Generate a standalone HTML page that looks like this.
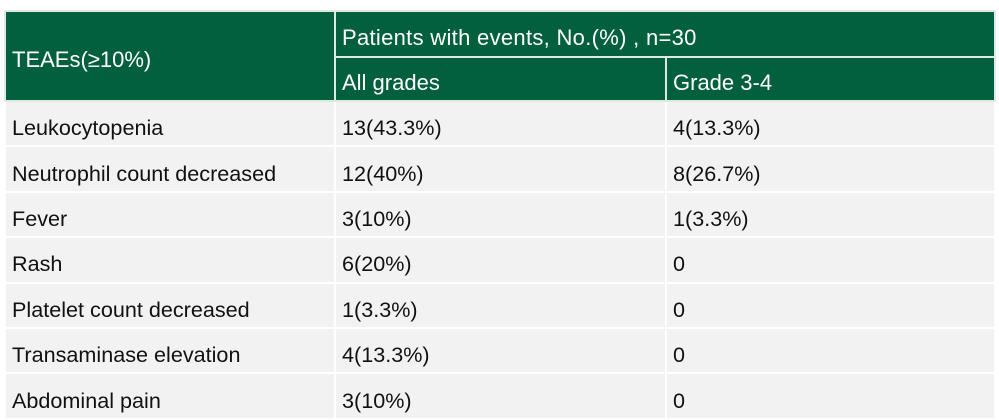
<!DOCTYPE html>
<html><head><style>
html,body{margin:0;padding:0;background:#fff;width:999px;height:420px;overflow:hidden}
table{position:absolute;left:4px;top:10px;border-collapse:collapse;font-family:"Liberation Sans",sans-serif;font-size:21.6px;color:#111}
td{padding:9px 0 0 6px;border:2px solid #fff;background:#f2f2f2;height:34.4px;vertical-align:middle}
th{background:#03603f;color:#fff;font-weight:normal;text-align:left;padding:8px 0 0 6px;border:2px solid #dfe9e4;vertical-align:middle;font-size:22px}
</style></head><body>
<table>
<colgroup><col style="width:330px"><col style="width:331px"><col style="width:329px"></colgroup>
<tr><th rowspan="2" style="height:80px">TEAEs(≥10%)</th><th colspan="2" style="height:35px;letter-spacing:0.3px">Patients with events, No.(%) , n=30</th></tr>
<tr><th style="height:33px">All grades</th><th>Grade 3-4</th></tr>
<tr><td>Leukocytopenia</td><td>13(43.3%)</td><td>4(13.3%)</td></tr>
<tr><td>Neutrophil count decreased</td><td>12(40%)</td><td>8(26.7%)</td></tr>
<tr><td>Fever</td><td>3(10%)</td><td>1(3.3%)</td></tr>
<tr><td>Rash</td><td>6(20%)</td><td>0</td></tr>
<tr><td>Platelet count decreased</td><td>1(3.3%)</td><td>0</td></tr>
<tr><td>Transaminase elevation</td><td>4(13.3%)</td><td>0</td></tr>
<tr><td>Abdominal pain</td><td>3(10%)</td><td>0</td></tr>
</table>
</body></html>
